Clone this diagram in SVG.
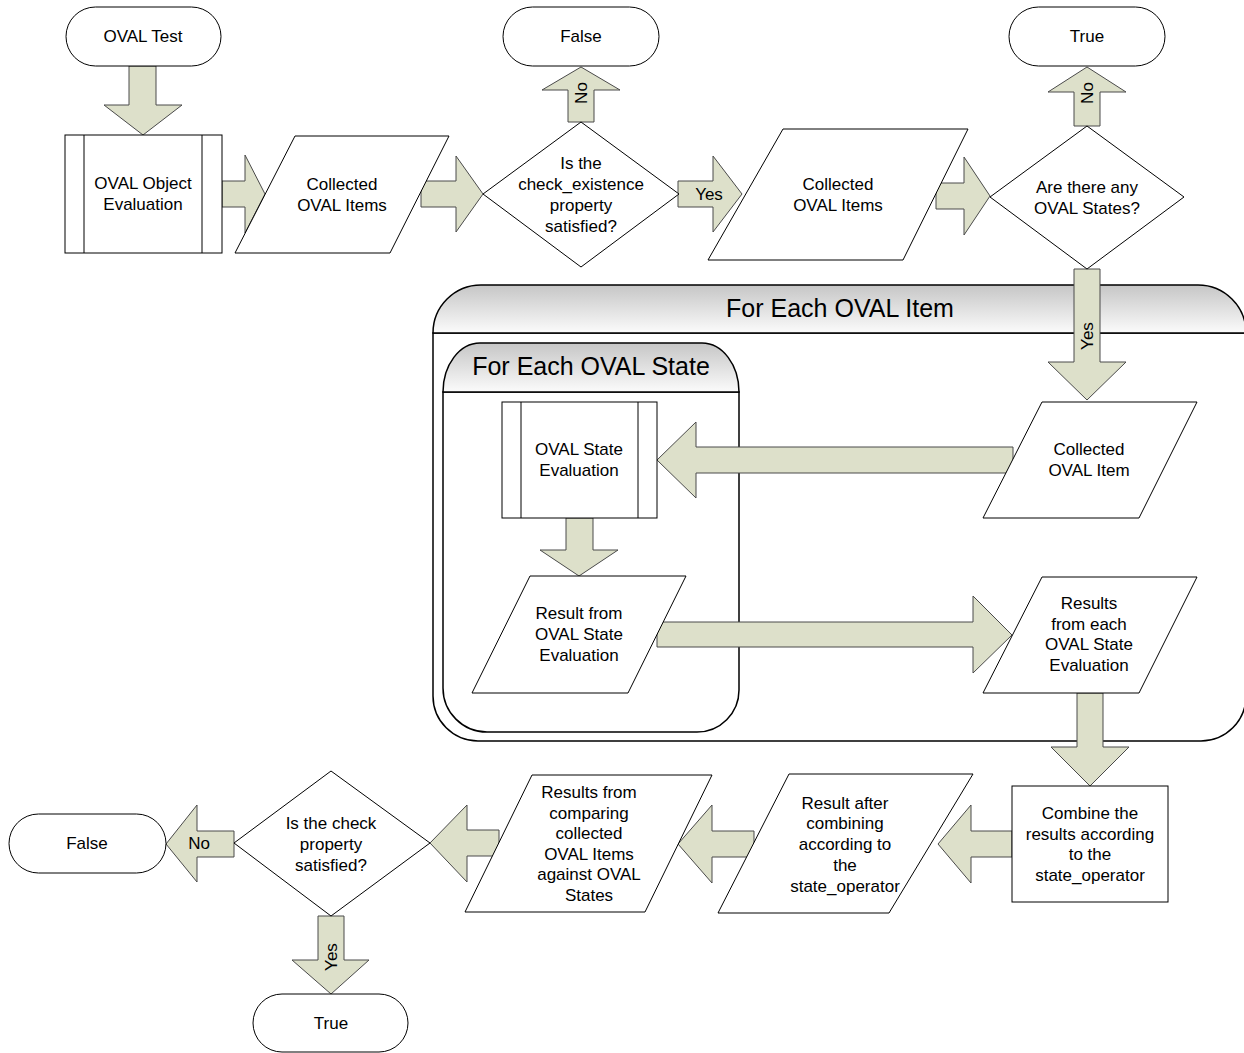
<svg xmlns="http://www.w3.org/2000/svg" width="1244" height="1053" viewBox="0 0 1244 1053">
<defs>
<linearGradient id="hdr" x1="0" y1="0" x2="0" y2="1">
<stop offset="0" stop-color="#c6c6c6"/>
<stop offset="1" stop-color="#fbfbfb"/>
</linearGradient>
<style>
.n{fill:#fff;stroke:#000;stroke-width:1}
.ln{fill:none;stroke:#000;stroke-width:1}
.c{fill:#fff;stroke:#000;stroke-width:1.5}
.h{fill:url(#hdr);stroke:#000;stroke-width:1.5}
.a{fill:#dde0ca;stroke:#4a4a4a;stroke-width:1}
text{font-family:"Liberation Sans",Arial,sans-serif;font-size:17px;fill:#000;text-anchor:middle}
.t{font-size:25px}
</style>
</defs>
<rect width="1244" height="1053" fill="#fff"/>

<g id="container-item">
<path class="c" d="M433,333 L433,696 A45,45 0 0 0 478,741 L1201,741 A45,45 0 0 0 1246,696 L1246,333 Z"/>
<path class="h" d="M433,333 A48,48 0 0 1 481,285 L1198,285 A48,48 0 0 1 1246,333 Z"/>
<text class="t" x="840" y="317">For Each OVAL Item</text>
</g>
<g id="container-state">
<path class="c" d="M443,392 L443,688 A44,44 0 0 0 487,732 L697,732 A42,42 0 0 0 739,690 L739,392 Z"/>
<path class="h" d="M443,392 A37,49 0 0 1 480,343 L702,343 A37,49 0 0 1 739,392 Z"/>
<text class="t" x="591" y="375">For Each OVAL State</text>
</g>

<g id="connectors">
<polygon class="a" points="129,66 156,66 156,105 182,105 143,135 104,105 129,105"/>
<polygon class="a" points="222,181 245,181 245,155 265,194 245,233 245,207 222,207"/>
<polygon class="a" points="421,181 456,181 456,156 483,194 456,232 456,207 421,207"/>
<polygon class="a" points="568,122 568,90 542,90 581,67 620,90 594,90 594,122"/>
<text transform="rotate(-90 581 93)" x="581" y="99">No</text>
<polygon class="a" points="678,181 713,181 713,156 742,194 713,232 713,207 678,207"/>
<text x="709" y="200">Yes</text>
<polygon class="a" points="936,183 964,183 964,157 990,196 964,235 964,209 936,209"/>
<polygon class="a" points="1074,126 1074,92 1048,92 1087,67 1126,92 1100,92 1100,126"/>
<text transform="rotate(-90 1087 93)" x="1087" y="99">No</text>
<polygon class="a" points="1074,269 1100,269 1100,362 1126,362 1087,400 1048,362 1074,362"/>
<text transform="rotate(-90 1087 336)" x="1087" y="342">Yes</text>
<polygon class="a" points="1013,447 696,447 696,422 657,460 696,498 696,473 1013,473"/>
<polygon class="a" points="566,518 593,518 593,550 618,550 579,576 540,550 566,550"/>
<polygon class="a" points="657,622 973,622 973,596 1012,635 973,673 973,647 657,647"/>
<polygon class="a" points="1077,693 1103,693 1103,747 1129,747 1090,786 1051,747 1077,747"/>
<polygon class="a" points="1012,831 971,831 971,805 938,844 971,883 971,857 1012,857"/>
<polygon class="a" points="754,831 712,831 712,805 678,844 712,883 712,857 754,857"/>
<polygon class="a" points="499,830 467,830 467,805 430,843 467,882 467,856 499,856"/>
<polygon class="a" points="234,831 197,831 197,805 166,844 197,882 197,857 234,857"/>
<text x="199" y="849">No</text>
<polygon class="a" points="318,916 344,916 344,960 369,960 331,994 292,960 318,960"/>
<text transform="rotate(-90 331 957)" x="331" y="963">Yes</text>
</g>

<g id="oval-test">
<rect class="n" x="66" y="7" width="155" height="59" rx="29.5"/>
<text x="143" y="42">OVAL Test</text>
</g>
<g id="object-eval">
<rect class="n" x="65" y="135" width="157" height="118"/>
<line class="ln" x1="84" y1="135" x2="84" y2="253"/>
<line class="ln" x1="202" y1="135" x2="202" y2="253"/>
<text x="143" y="189">OVAL Object</text>
<text x="143" y="210">Evaluation</text>
</g>
<g id="collected-items-1">
<polygon class="n" points="295,136 449,136 390,253 235,253"/>
<text x="342" y="190">Collected</text>
<text x="342" y="211">OVAL Items</text>
</g>
<g id="decision-existence">
<polygon class="n" points="581,122 679,194 581,267 483,194"/>
<text x="581" y="169">Is the</text>
<text x="581" y="190">check_existence</text>
<text x="581" y="211">property</text>
<text x="581" y="232">satisfied?</text>
</g>
<g id="false-top">
<rect class="n" x="503" y="7" width="156" height="59" rx="29.5"/>
<text x="581" y="42">False</text>
</g>
<g id="collected-items-2">
<polygon class="n" points="783,129 968,129 903,260 708,260"/>
<text x="838" y="190">Collected</text>
<text x="838" y="211">OVAL Items</text>
</g>
<g id="decision-states">
<polygon class="n" points="1087,126 1184,197 1087,269 990,197"/>
<text x="1087" y="193">Are there any</text>
<text x="1087" y="214">OVAL States?</text>
</g>
<g id="true-top">
<rect class="n" x="1009" y="7" width="156" height="59" rx="29.5"/>
<text x="1087" y="42">True</text>
</g>
<g id="collected-item">
<polygon class="n" points="1042,402 1197,402 1139,518 983,518"/>
<text x="1089" y="455">Collected</text>
<text x="1089" y="476">OVAL Item</text>
</g>
<g id="state-eval">
<rect class="n" x="502" y="402" width="155" height="116"/>
<line class="ln" x1="521" y1="402" x2="521" y2="518"/>
<line class="ln" x1="638" y1="402" x2="638" y2="518"/>
<text x="579" y="455">OVAL State</text>
<text x="579" y="476">Evaluation</text>
</g>
<g id="result-state-eval">
<polygon class="n" points="530,576 686,576 628,693 472,693"/>
<text x="579" y="619">Result from</text>
<text x="579" y="640">OVAL State</text>
<text x="579" y="661">Evaluation</text>
</g>
<g id="results-each">
<polygon class="n" points="1042,577 1197,577 1139,693 983,693"/>
<text x="1089" y="609">Results</text>
<text x="1089" y="630">from each</text>
<text x="1089" y="650">OVAL State</text>
<text x="1089" y="671">Evaluation</text>
</g>
<g id="combine">
<rect class="n" x="1012" y="786" width="156" height="116"/>
<text x="1090" y="819">Combine the</text>
<text x="1090" y="840">results according</text>
<text x="1090" y="860">to the</text>
<text x="1090" y="881">state_operator</text>
</g>
<g id="result-after">
<polygon class="n" points="789,774 973,774 889,913 718,913"/>
<text x="845" y="809">Result after</text>
<text x="845" y="829">combining</text>
<text x="845" y="850">according to</text>
<text x="845" y="871">the</text>
<text x="845" y="892">state_operator</text>
</g>
<g id="results-comparing">
<polygon class="n" points="532,775 712,775 645,912 465,912"/>
<text x="589" y="798">Results from</text>
<text x="589" y="819">comparing</text>
<text x="589" y="839">collected</text>
<text x="589" y="860">OVAL Items</text>
<text x="589" y="880">against OVAL</text>
<text x="589" y="901">States</text>
</g>
<g id="decision-check">
<polygon class="n" points="331,771 430,843 331,916 234,843"/>
<text x="331" y="829">Is the check</text>
<text x="331" y="850">property</text>
<text x="331" y="871">satisfied?</text>
</g>
<g id="false-bottom">
<rect class="n" x="9" y="814" width="157" height="59" rx="29.5"/>
<text x="87" y="849">False</text>
</g>
<g id="true-bottom">
<rect class="n" x="253" y="994" width="155" height="58" rx="29"/>
<text x="331" y="1029">True</text>
</g>
</svg>
